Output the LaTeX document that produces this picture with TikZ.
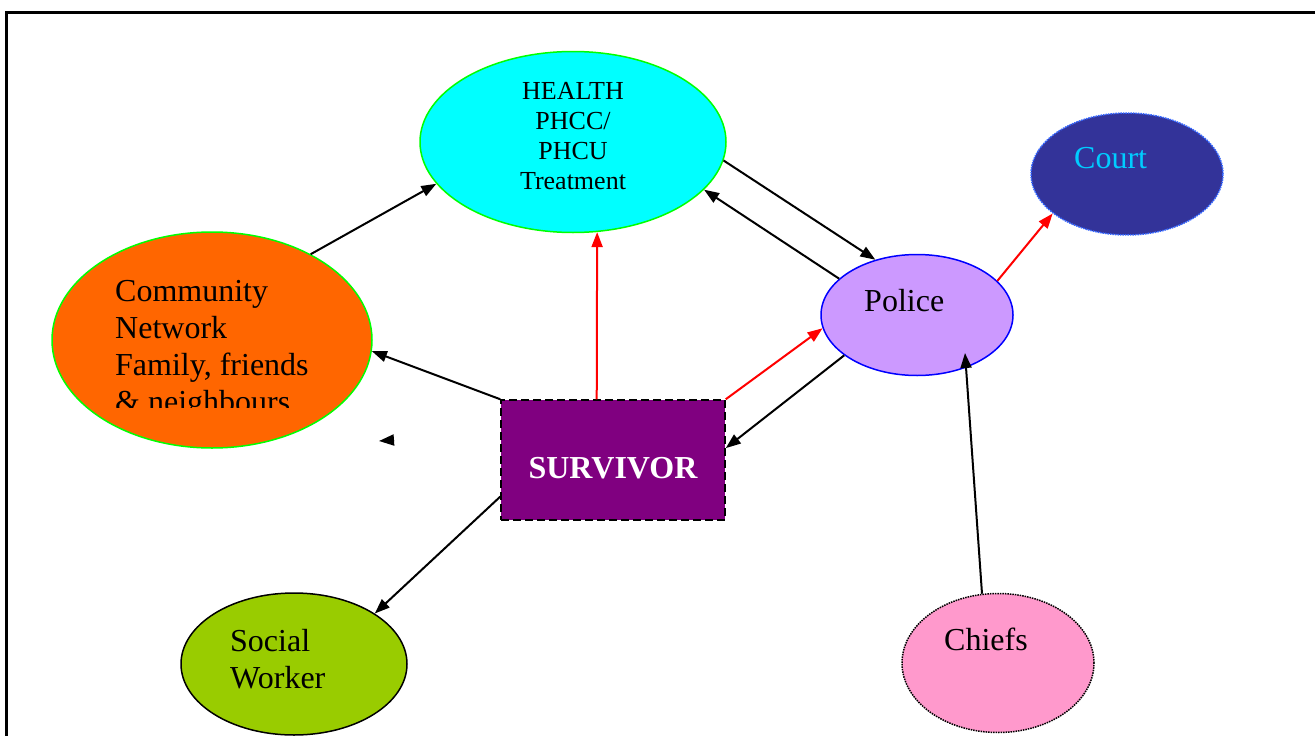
\documentclass[tikz,border=0pt]{standalone}
\usepackage{fontspec}
\setmainfont{Liberation Serif}
\usetikzlibrary{shapes.geometric,arrows.meta}
\definecolor{healthcyan}{HTML}{00FFFF}
\definecolor{rimgreen}{HTML}{00FF00}
\definecolor{commorange}{HTML}{FF6600}
\definecolor{courtblue}{HTML}{333399}
\definecolor{courtrim}{HTML}{3366FF}
\definecolor{courttext}{HTML}{00CCFF}
\definecolor{policelilac}{HTML}{CC99FF}
\definecolor{survpurple}{HTML}{800080}
\definecolor{socialgreen}{HTML}{99CC00}
\definecolor{chiefpink}{HTML}{FF99CC}
\tikzset{
  blob/.style={ellipse, draw, line width=1.5pt, inner sep=0pt},
  arr/.style={line width=2pt, -{Triangle[length=15pt,width=11pt]}},
  redarr/.style={arr, red},
  lbl/.style={inner sep=0pt, anchor=north west, align=left, font=\fontsize{32}{37}\selectfont},
}
\begin{document}
\begin{tikzpicture}[x=1pt,y=-1pt]
\useasboundingbox (0,0) rectangle (1315,736);
\draw[line width=3pt] (6.5,736) -- (6.5,12.5) -- (1315,12.5);

% the boxes
\node[blob, fill=healthcyan, draw=rimgreen, minimum width=306pt, minimum height=181pt] (health) at (573,142) {};
\node[blob, fill=commorange, draw=rimgreen, minimum width=320pt, minimum height=216pt] (comm) at (212,340) {};
\node[blob, fill=courtblue, draw=courtrim, densely dotted, minimum width=192pt, minimum height=122pt] (court) at (1127,174) {};
\node[blob, fill=policelilac, draw=blue, minimum width=192pt, minimum height=121pt] (police) at (917,315) {};
\node[blob, fill=chiefpink, densely dotted, minimum width=192pt, minimum height=139pt] (chiefs) at (998,663) {};
\node[blob, fill=socialgreen, minimum width=226pt, minimum height=142pt] (social) at (294,664) {};
\node[draw, fill=survpurple, line width=1.5pt, dash pattern=on 8pt off 4pt, minimum width=224pt, minimum height=120pt,
  text=white, font=\bfseries\fontsize{32}{37}\selectfont, text height=36pt, text depth=0pt] (surv) at (613,460) {SURVIVOR};

% the labels
\node[lbl, anchor=north, align=center, font=\fontsize{26}{30}\selectfont] (healthtxt) at (573,82) {HEALTH\\PHCC/\\PHCU\\Treatment};
\begin{scope}
\clip (0,0) rectangle (1315,407);
\node[lbl] (commtxt) at (115,280) {Community\\Network\\Family, friends\\\& neighbours};
\end{scope}
\node[lbl, text=courttext] (courttxt) at (1074,147) {Court};
\node[lbl] (policetxt) at (864,289) {Police};
\node[lbl] (chieftxt) at (944,628) {Chiefs};
\node[lbl] (socialtxt) at (230,629) {Social\\Worker};

% the arrows
\draw[arr] (comm.41) -- (health.197);
\draw[arr] (health.-7) -- (police.127);
\draw[arr] (police.155) -- (health.-20);
\draw[redarr] (surv.105) -- (health.-75);
\draw[redarr] (surv.north east) -- (police.188);
\draw[arr] (police.209) -- (surv.6);
\draw[arr] (surv.north west) -- (comm.-4);
\draw[arr] (surv.198) -- (social.32);
\draw[arr] (chiefs.103) -- ([shift={(48,38)}]police.center);
\draw[redarr] (police.23) -- (court.208);
\coordinate (stubA) at (394,440);
\coordinate (stubB) at (379,441);
\draw[arr] (stubA) -- (stubB);

\end{tikzpicture}
\end{document}
